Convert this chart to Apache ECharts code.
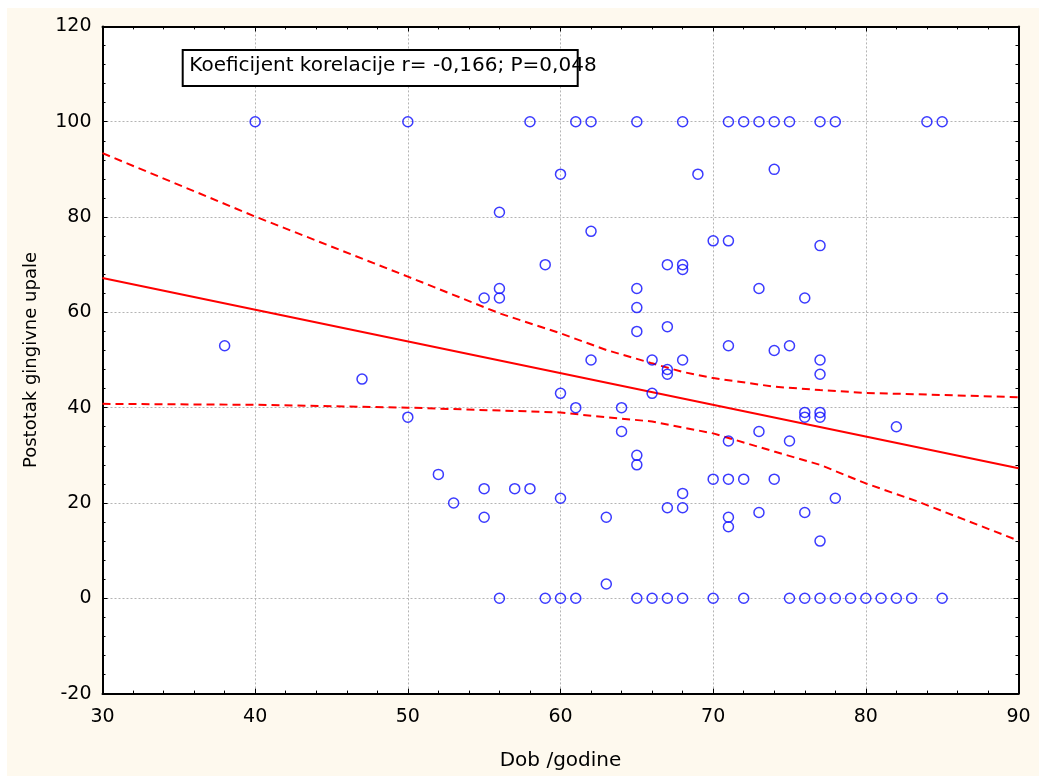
<!DOCTYPE html>
<html>
<head>
<meta charset="utf-8">
<script src="https://cdn.jsdelivr.net/npm/echarts@6/dist/echarts.min.js"></script>
<style>
  html, body { margin: 0; padding: 0; background: #ffffff; }
  #chart { position: absolute; left: 7px; top: 8px; width: 1032px; height: 768px; background: #fef9ee; }
</style>
</head>
<body>
<div id="chart"></div>
<script>
// ---- data ----
const ages = [
  40, 50, 58, 61, 62, 65, 68, 71, 72, 73, 74, 75, 77, 78, 84, 85,
  60, 69, 74, 56, 62, 70, 71, 77, 59, 67, 68, 68, 55, 56, 56, 65, 65, 65, 73, 76, 67,
  38, 47, 50, 52, 53, 55, 55, 57, 58, 60, 60, 61, 62, 64, 64, 66, 66, 67, 67, 68,
  65, 65, 63, 63, 67, 68, 68, 70, 71, 72, 71, 71, 71, 71, 73, 73, 74, 74, 75, 75,
  76, 76, 77, 77, 77, 77, 76, 77, 78, 82,
  56, 59, 60, 61, 65, 66, 67, 68, 70, 72, 75, 76, 77, 78, 79, 80, 81, 82, 83, 85
];
const gingivalPct = [
  100, 100, 100, 100, 100, 100, 100, 100, 100, 100, 100, 100, 100, 100, 100, 100,
  89, 89, 90, 81, 77, 75, 75, 74, 70, 70, 70, 69, 63, 65, 63, 65, 61, 56, 65, 63, 57,
  53, 46, 38, 26, 20, 23, 17, 23, 23, 43, 21, 40, 50, 40, 35, 50, 43, 48, 47, 50,
  30, 28, 17, 3, 19, 19, 22, 25, 25, 25, 53, 33, 17, 15, 35, 18, 52, 25, 53, 33,
  39, 38, 39, 38, 50, 47, 18, 12, 21, 36,
  0, 0, 0, 0, 0, 0, 0, 0, 0, 0, 0, 0, 0, 0, 0, 0, 0, 0, 0, 0
];
// regression line end points
const fitX = [30, 90];
const fitY = [67.2, 27.3];
// 95% confidence band (upper / lower)
const upperX = [30, 40, 50, 56, 60, 63, 66, 68, 70, 74, 77, 80, 90];
const upperY = [93.4, 80.1, 67.5, 59.8, 55.6, 52.1, 49.3, 47.5, 46.2, 44.4, 43.7, 43.1, 42.2];
const lowerX = [30, 40, 50, 60, 62, 66, 70, 74, 77, 80, 83.4, 90];
const lowerY = [40.8, 40.6, 40.0, 39.0, 38.3, 37.1, 34.6, 30.8, 28.0, 24.1, 20.3, 12.1];
const xTicks = [30, 40, 50, 60, 70, 80, 90];
const yTicks = [-20, 0, 20, 40, 60, 80, 100, 120];
const xTitle = 'Dob /godine';
const yTitle = 'Postotak gingivne upale';
const noteText = 'Koeficijent korelacije r= -0,166; P=0,048';

// ---- build chart ----
const FONT = 'DejaVu Sans';
const pair = (xs, ys) => xs.map((x, i) => [x, ys[i]]);
const points = pair(ages, gingivalPct);

const axisCommon = {
  type: 'value',
  axisLine: { show: true, onZero: false, lineStyle: { color: '#000', width: 2 } },
  axisTick: { show: true, inside: true, length: 5, lineStyle: { color: '#000', width: 1 } },
  minorTick: { show: true, splitNumber: 5, length: 3, lineStyle: { color: '#000', width: 1 } },
  minorSplitLine: { show: false }
};
const gridLine = { show: true, lineStyle: { color: '#b4b4b4', type: [2, 2], width: 1 } };

const chart = echarts.init(document.getElementById('chart'), null, { renderer: 'canvas' });
chart.setOption({
  animation: false,
  backgroundColor: '#fef9ee',
  textStyle: { fontFamily: FONT },
  grid: {
    left: 95.5, right: 20.5, top: 18.4, bottom: 82.4,
    show: true, backgroundColor: '#ffffff', borderColor: '#000', borderWidth: 0
  },
  xAxis: [
    Object.assign({}, axisCommon, {
      position: 'bottom',
      min: xTicks[0], max: xTicks[xTicks.length - 1], interval: 10,
      splitLine: gridLine,
      axisLabel: { color: '#000', fontSize: 19, fontFamily: FONT, margin: 14 },
      name: xTitle, nameLocation: 'middle', nameGap: 57,
      nameTextStyle: { color: '#000', fontSize: 20, fontFamily: FONT }
    }),
    Object.assign({}, axisCommon, {
      position: 'top',
      min: xTicks[0], max: xTicks[xTicks.length - 1], interval: 10,
      splitLine: { show: false },
      axisLabel: { show: false }
    })
  ],
  yAxis: [
    Object.assign({}, axisCommon, {
      position: 'left',
      min: yTicks[0], max: yTicks[yTicks.length - 1], interval: 20,
      splitLine: gridLine,
      axisLabel: { color: '#000', fontSize: 19, fontFamily: FONT, margin: 11 },
      name: yTitle, nameLocation: 'middle', nameGap: 62, nameRotate: 90,
      nameTextStyle: { color: '#000', fontSize: 18, fontFamily: FONT }
    }),
    Object.assign({}, axisCommon, {
      position: 'right',
      min: yTicks[0], max: yTicks[yTicks.length - 1], interval: 20,
      splitLine: { show: false },
      axisLabel: { show: false }
    })
  ],
  series: [
    {
      type: 'line', data: pair(upperX, upperY), showSymbol: false, silent: true,
      lineStyle: { color: '#ff0000', width: 2, type: [8, 5] }, z: 2
    },
    {
      type: 'line', data: pair(lowerX, lowerY), showSymbol: false, silent: true,
      lineStyle: { color: '#ff0000', width: 2, type: [8, 5] }, z: 2
    },
    {
      type: 'line', data: pair(fitX, fitY), showSymbol: false, silent: true,
      lineStyle: { color: '#ff0000', width: 2, type: 'solid' }, z: 2
    },
    {
      type: 'scatter', data: points, symbol: 'circle', symbolSize: 10,
      itemStyle: { color: 'rgba(0,0,0,0)', borderColor: '#0a0aff', borderWidth: 1.5 }, z: 3
    }
  ],
  graphic: [
    {
      type: 'rect', left: 174.7, top: 41, z: 10,
      shape: { width: 395, height: 36 },
      style: { fill: '#ffffff', stroke: '#000', lineWidth: 2 }
    },
    {
      type: 'text', left: 182.3, top: 48, z: 11,
      style: { text: noteText, fill: '#000', font: '20px "DejaVu Sans"' }
    }
  ]
});
</script>
</body>
</html>
